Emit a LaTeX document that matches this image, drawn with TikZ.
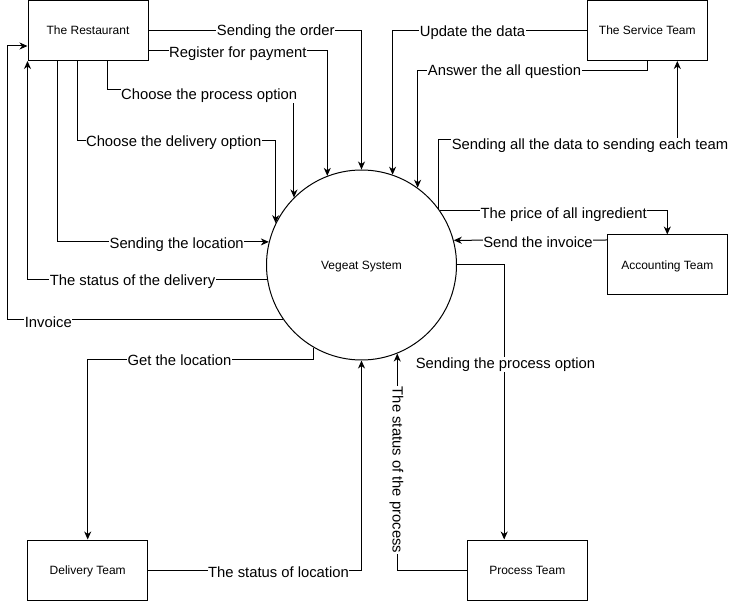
\documentclass[tikz,border=0pt]{standalone}
\usepackage{fontspec}
\setmainfont{Liberation Sans}
\usetikzlibrary{arrows.meta,calc}
\begin{document}
\begin{tikzpicture}[x=1pt,y=-1pt,
  box/.style={draw, line width=1pt, minimum width=120pt, minimum height=60pt, inner sep=0pt, text depth=0pt, font=\fontsize{12}{14}\selectfont},
  lbl/.style={fill=white, inner sep=0.5pt, font=\fontsize{14.8}{17}\selectfont},
  flow/.style={line width=1pt},
  arr/.style={flow, -{Stealth[length=8pt,width=7pt,inset=2.5pt]}},
]
\useasboundingbox (0,0) rectangle (731,601);
\fill[white] (0,0) rectangle (731,601);

% nodes
\node[box] (rest) at (88,30.5) {The Restaurant};
\node[box] (serv) at (647.3,30.5) {The Service Team};
\node[box] (acct) at (667.3,265) {Accounting Team};
\node[box] (deliv) at (87.7,570) {Delivery Team};
\node[box] (proc) at (527.3,570) {Process Team};
\node[draw, circle, line width=1pt, minimum size=190pt, inner sep=0pt, text depth=0pt, font=\fontsize{12}{14}\selectfont] (sys) at (361.5,265) {Vegeat System};

% connectors
\draw[arr] (rest.east) -| (sys.north);
\draw[arr] (rest.east |- 0,51) -| (sys.111.5);
\draw[arr] (rest.south -| 107.3,0) -- ++(0,29) -| (sys.135);
\draw[arr] (rest.south -| 77.7,0) -- ++(0,80) -| (sys.154.2);
\draw[arr] (rest.south -| 57.7,0) |- (sys.166.8);
\draw[arr] (sys.189.1) -| (rest.south west);
\coordinate (inv) at (7.3,46);
\draw[arr] (sys.215.9) -| (inv) -- (inv -| rest.west);
\draw[arr] (sys.240.7) -- ++(0,12) -| (deliv.north);
\draw[arr] (deliv.east) -| (sys.south);
\draw[arr] (proc.west) -| (sys.292.1);
\draw[arr] (sys.east) -| ($(proc.north west)+(37.4,0)$);
\draw[arr] (serv.west) -| (sys.71.5);
\draw[arr] (serv.south) -- ++(0,10) -| (sys.54.5);
\coordinate (sd) at (677.3,140);
\draw[arr] (sys.36) |- (sd) -- (sd |- serv.south);
\draw[arr] (sys.35.4) -| (acct.north);
\draw[arr] (acct.west |- 0,240) -- (sys.15.26);

% labels
\node[lbl] (l1) at (275.8,32) {Sending the order};
\node[lbl] (l2) at (237.8,53.5) {Register for payment};
\node[lbl] (l3) at (209.2,95.5) {Choose the process option};
\node[lbl] (l4) at (173.7,142.5) {Choose the delivery option};
\node[lbl] (l5) at (176.7,245) {Sending the location};
\node[lbl] (l6) at (132.5,282) {The status of the delivery};
\node[lbl] (l7) at (48.3,322.5) {Invoice};
\node[lbl] (l8) at (179.5,360.5) {Get the location~};
\node[lbl] (l9) at (278.5,572.5) {The status of location};
\node[lbl, rotate=-90] (l10) at (396.5,470) {The status of the process};
\node[lbl] (l11) at (505.5,364.8) {Sending the process option};
\node[lbl] (l12) at (472.5,33) {Update the data};
\node[lbl] (l13) at (504.5,71.5) {Answer the all question};
\node[lbl] (l14) at (590,145.5) {Sending all the data to sending each team};
\node[lbl] (l15) at (563.7,214.5) {The price of all ingredient};
\node[lbl] (l16) at (538,242.5) {Send the invoice};
\end{tikzpicture}
\end{document}
